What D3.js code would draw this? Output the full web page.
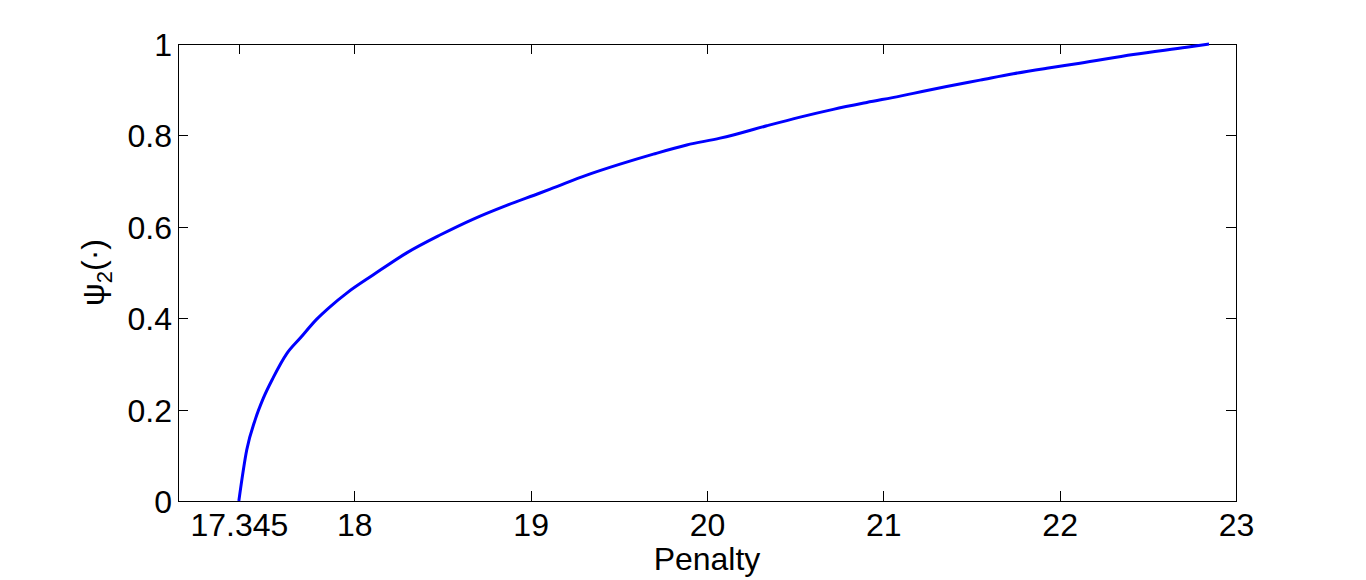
<!DOCTYPE html>
<html lang="en">
<head>
<meta charset="utf-8">
<title>Penalty curve</title>
<script src="https://d3js.org/d3.v7.min.js"></script>
<style type="text/css">
  body { margin: 0; background: #fff; }
  svg text { font-family: 'Liberation Sans', Arial, sans-serif; fill: #000; }
</style>
</head>
<body>
<div id="chart"></div>
<script>

/* Data */
var penalty = [17.345, 17.390, 17.437, 17.484, 17.540, 17.616, 17.692, 17.787, 17.862, 17.957,
               18.108, 18.297, 18.486, 18.675, 18.864, 19.053, 19.128, 19.318, 19.507, 19.696,
               19.885, 20.074, 20.149, 20.339, 20.528, 20.716, 20.906, 21.095, 21.170, 21.359,
               21.548, 21.737, 21.927, 22.115, 22.418, 22.720, 22.847];
var psi     = [0.000, 0.112, 0.177, 0.225, 0.270, 0.322, 0.356, 0.398, 0.425, 0.455,
               0.495, 0.543, 0.582, 0.617, 0.647, 0.674, 0.685, 0.713, 0.737, 0.759,
               0.779, 0.794, 0.801, 0.821, 0.840, 0.857, 0.872, 0.886, 0.892, 0.907,
               0.921, 0.935, 0.947, 0.958, 0.977, 0.993, 1.000];
var xTicks = [17.345, 18, 19, 20, 21, 22, 23];
var yTicks = [0, 0.2, 0.4, 0.6, 0.8, 1];

/* Layout */
var width = 1366, height = 580,
    plotLeft = 178, plotRight = 1236, plotTop = 44, plotBottom = 501,
    tickLen = 10,
    fontSize = 32;

var svg = d3.select('#chart').append('svg')
    .attr('width', width)
    .attr('height', height);

var x = d3.scaleLinear().domain([17, 23]).range([plotLeft, plotRight]);
var y = d3.scaleLinear().domain([0, 1]).range([plotBottom, plotTop]);

// Axes: ticks point inward, labels on bottom/left only
function fmtX(d) { return d === 17.345 ? '17.345' : d3.format('d')(d); }
function fmtY(d) { return d === 0 || d === 1 ? d3.format('d')(d) : d3.format('.1f')(d); }

var gx = svg.append('g')
    .attr('transform', 'translate(0,' + plotBottom + ')')
    .call(d3.axisBottom(x).tickValues(xTicks).tickFormat(fmtX).tickSizeInner(-tickLen).tickSizeOuter(0).tickPadding(12));

var gxTop = svg.append('g')
    .attr('transform', 'translate(0,' + plotTop + ')')
    .call(d3.axisTop(x).tickValues(xTicks).tickFormat('').tickSizeInner(-tickLen).tickSizeOuter(0));

var gy = svg.append('g')
    .attr('transform', 'translate(' + plotLeft + ',0)')
    .call(d3.axisLeft(y).tickValues(yTicks).tickFormat(fmtY).tickSizeInner(-tickLen).tickSizeOuter(0).tickPadding(6));

var gyRight = svg.append('g')
    .attr('transform', 'translate(' + plotRight + ',0)')
    .call(d3.axisRight(y).tickValues(yTicks).tickFormat('').tickSizeInner(-tickLen).tickSizeOuter(0));

[gx, gxTop, gy, gyRight].forEach(function(g) {
  g.attr('font-size', null).attr('font-family', null);
  g.select('.domain').remove();
  g.selectAll('line').attr('stroke', '#000').attr('stroke-width', 1).attr('shape-rendering', 'crispEdges');
  g.selectAll('text').attr('font-size', fontSize).attr('fill', '#000');
});

gx.selectAll('text').attr('dy', '0.71em');
gy.selectAll('text').attr('dy', '0.36em');

// Box
svg.append('rect')
    .attr('x', plotLeft)
    .attr('y', plotTop)
    .attr('width', plotRight - plotLeft)
    .attr('height', plotBottom - plotTop)
    .attr('fill', 'none')
    .attr('stroke', '#000')
    .attr('stroke-width', 1)
    .attr('shape-rendering', 'crispEdges');

// Curve
var line = d3.line()
    .x(function(d, i) { return x(penalty[i]); })
    .y(function(d) { return y(d); })
    .curve(d3.curveMonotoneX);

svg.append('path')
    .datum(psi)
    .attr('d', line)
    .attr('fill', 'none')
    .attr('stroke', '#0000ff')
    .attr('stroke-width', 3)
    .attr('stroke-linejoin', 'round');

// Axis labels
svg.append('text')
    .attr('x', (plotLeft + plotRight) / 2)
    .attr('y', 570)
    .attr('text-anchor', 'middle')
    .attr('font-size', fontSize)
    .text('Penalty');

var yl = svg.append('text')
    .attr('transform', 'translate(104,' + ((plotTop + plotBottom) / 2) + ') rotate(-90)')
    .attr('text-anchor', 'middle')
    .attr('font-size', fontSize);
yl.append('tspan').text('\u03c8');
yl.append('tspan').attr('font-size', 22).attr('dy', 8).text('2');
yl.append('tspan').attr('dy', -8).text('(\u00b7)');

</script>
</body>
</html>
